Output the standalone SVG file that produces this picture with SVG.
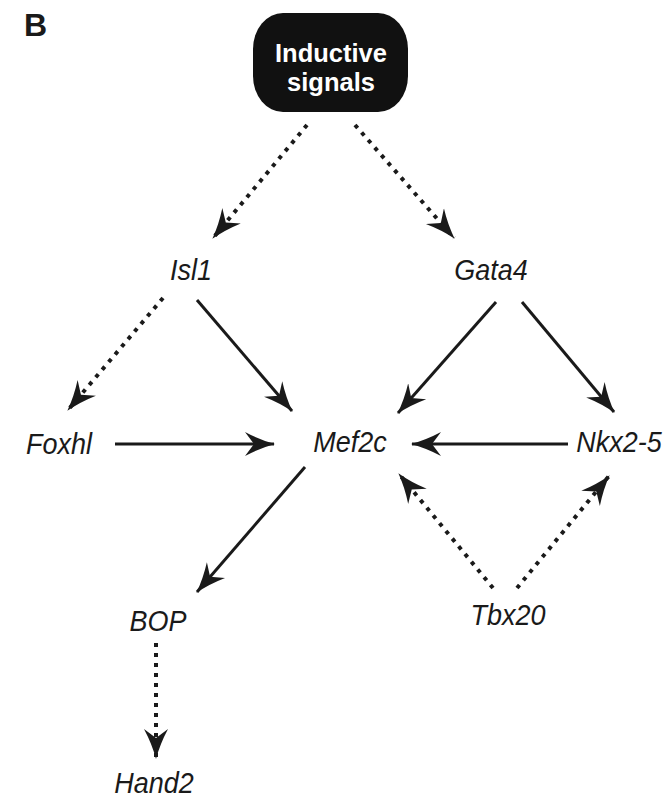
<svg xmlns="http://www.w3.org/2000/svg" width="671" height="799" viewBox="0 0 671 799">
<style>
.g{font-family:"Liberation Sans",Arial,sans-serif;font-style:italic;font-size:27px;fill:#1a1a1a;text-anchor:middle}
.w{font-family:"Liberation Sans",Arial,sans-serif;font-weight:bold;font-size:25.5px;fill:#ffffff;text-anchor:middle}
.s{stroke:#1a1a1a;stroke-width:3;fill:none}
.d{stroke:#1a1a1a;stroke-width:4;fill:none;stroke-dasharray:4 6}
</style>
<defs>
<marker id="ah" viewBox="0 0 30 26" refX="29" refY="13" markerWidth="30" markerHeight="26" markerUnits="userSpaceOnUse" orient="auto">
<path d="M0,1 Q15,9 30,13 Q15,17 0,25 L9,13 Z" fill="#1a1a1a"/>
</marker>
</defs>
<rect width="671" height="799" fill="#ffffff"/>
<text x="24" y="36" font-family="Liberation Sans,Arial,sans-serif" font-weight="bold" font-size="32" fill="#1a1a1a">B</text>
<g id="inductive">
<rect x="253" y="13" width="155" height="99" rx="30" ry="36" fill="#111111"/>
<text class="w" x="331" y="62">Inductive</text>
<text class="w" x="331" y="91">signals</text>
</g>
<g id="isl1"><text class="g" transform="translate(191,280) scale(1,1.12)">Isl1</text></g>
<g id="gata4"><text class="g" transform="translate(491,280) scale(1,1.12)">Gata4</text></g>
<g id="foxhl"><text class="g" transform="translate(59,454) scale(1,1.12)">Foxhl</text></g>
<g id="mef2c"><text class="g" transform="translate(350,452) scale(1,1.12)">Mef2c</text></g>
<g id="nkx25"><text class="g" transform="translate(619,452) scale(1,1.12)">Nkx2-5</text></g>
<g id="bop"><text class="g" transform="translate(158,631) scale(1,1.12)">BOP</text></g>
<g id="tbx20"><text class="g" transform="translate(508,625) scale(1,1.12)">Tbx20</text></g>
<g id="hand2"><text class="g" transform="translate(154,793) scale(1,1.12)">Hand2</text></g>
<g id="connectors">
<line class="d" x1="307" y1="125" x2="213" y2="238" marker-end="url(#ah)"/>
<line class="d" x1="355" y1="125" x2="454" y2="238" marker-end="url(#ah)"/>
<line class="d" x1="163" y1="298" x2="68" y2="410" marker-end="url(#ah)"/>
<line class="s" x1="197" y1="300" x2="292" y2="411" marker-end="url(#ah)"/>
<line class="s" x1="496" y1="302" x2="398" y2="413" marker-end="url(#ah)"/>
<line class="s" x1="522" y1="302" x2="614" y2="412" marker-end="url(#ah)"/>
<line class="s" x1="115" y1="444" x2="274" y2="444" marker-end="url(#ah)"/>
<line class="s" x1="568" y1="444" x2="412" y2="444" marker-end="url(#ah)"/>
<line class="s" x1="305" y1="467" x2="197" y2="592" marker-end="url(#ah)"/>
<line class="d" x1="493" y1="588" x2="399" y2="474" marker-end="url(#ah)"/>
<line class="d" x1="517" y1="588" x2="609" y2="476" marker-end="url(#ah)"/>
<line class="d" x1="156" y1="643" x2="156" y2="758" marker-end="url(#ah)"/>
</g>
</svg>
